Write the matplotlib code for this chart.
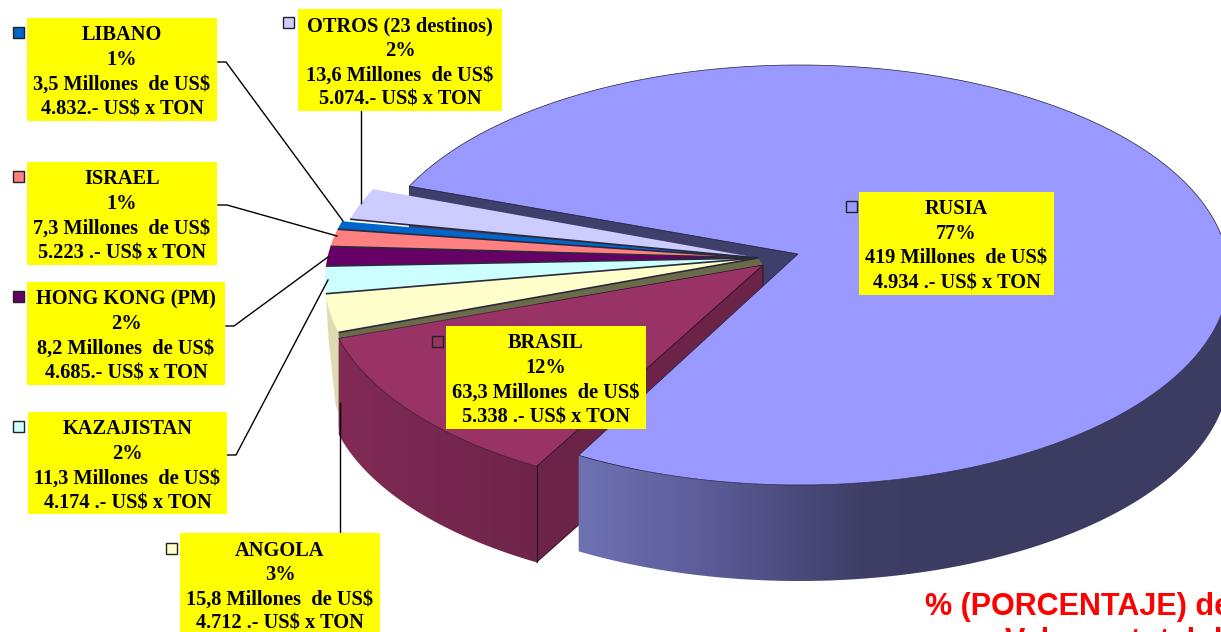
#!/usr/bin/env python3

import numpy as np
import matplotlib
matplotlib.use("Agg")
import matplotlib.pyplot as plt
from matplotlib.patches import Polygon, Rectangle
from matplotlib.colors import LinearSegmentedColormap

paises = ["RUSIA", "BRASIL", "ANGOLA", "KAZAJISTAN", "HONG KONG (PM)", "ISRAEL", "LIBANO", "OTROS (23 destinos)"]
millones = [419, 63.3, 15.8, 11.3, 8.2, 7.3, 3.5, 13.6]
porcentajes = ["77%", "12%", "3%", "2%", "2%", "1%", "1%", "2%"]
millones_txt = ["419 Millones  de US$", "63,3 Millones  de US$", "15,8 Millones  de US$", "11,3 Millones  de US$",
                "8,2 Millones  de US$", "7,3 Millones  de US$", "3,5 Millones  de US$", "13,6 Millones  de US$"]
precios_txt = ["4.934 .- US$ x TON", "5.338 .- US$ x TON", "4.712 .- US$ x TON", "4.174 .- US$ x TON",
               "4.685.- US$ x TON", "5.223 .- US$ x TON", "4.832.- US$ x TON", "5.074.- US$ x TON"]
colores = ["#9999ff", "#993366", "#ffffcc", "#ccffff", "#660066", "#ff8080", "#0066cc", "#ccccff"]

# left, top, right, bottom of each yellow box, in pixels
cajas = [(859, 192, 1054, 295), (446, 326, 646, 429), (180, 533, 380, 636), (28, 412, 227, 514),
         (27, 282, 225, 385), (27, 162, 217, 265), (27, 18, 217, 121), (298, 9, 502, 111)]
cuadros = [(846, 201), (432, 336), (166, 543), (13, 421), (13, 291), (13, 171), (13, 27), (283, 17)]
guias = [None, None,
         [(340, 533), (340, 403)],
         [(227, 455), (236, 455), (328, 280)],
         [(226, 326), (234, 326), (328, 257)],
         [(218, 205), (227, 205), (337, 236)],
         [(218, 62), (226, 62), (343, 221)],
         [(361, 111), (361, 203)]]

A, B, K = 427, 210, 0.1
ALTO = 96
INICIO = 160.3

W, H = 1221, 632
fig = plt.figure(figsize=(W / 100, H / 100), dpi=100)
ax = fig.add_axes([0, 0, 1, 1])
ax.set_xlim(0, W)
ax.set_ylim(H, 0)
ax.axis("off")


def borde(angulos, centro, dy=0, a=A):
    # points of the tilted circle, the hub sits above the ellipse centre
    t = np.radians(angulos)
    den = 1 + K * np.sin(t)
    u = np.cos(t) * np.sqrt(1 - K ** 2) / den
    v = (np.sin(t) + K) / den
    return np.column_stack([centro[0] + a * u, centro[1] - B * v + dy])


def poly(pts, color, z, ec="none", lw=0.0):
    ax.add_patch(Polygon(pts, closed=True, fc=color, ec=ec, lw=lw, zorder=z))


fracc = np.array(millones) / sum(millones) * 360
fin = INICIO - np.cumsum(fracc)
ini = fin + fracc

centro_ru, hub_ru, a_ru = (799, 275), (798, 254), 430
centro_br, hub_br, a_br = (759, 286), (763, 265), 434
centro_ot, hub_ot = (752, 280), (758, 258)
centro_otros = (760, 278)

# Brasil cut face, Russia covers part of it afterwards
p = borde([ini[1]], centro_br, a=a_br)[0]
poly([hub_br, p, p + (0, ALTO), (hub_br[0], hub_br[1] + ALTO)], "#6b2448", 2, "#2a1020", 0.6)

# Russia cut face and outer wall with gradient
p = borde([ini[0]], centro_ru, a=a_ru)[0]
poly([p, p + (0, ALTO - 2), (hub_ru[0], hub_ru[1] + ALTO), hub_ru], "#3f3f6b", 1, "#25253f", 0.6)
ang = np.linspace(fin[0] % 360, 360, 200)
arc = borde(ang, centro_ru, a=a_ru)
pared = np.vstack([arc, borde(ang[::-1], centro_ru, ALTO, a=a_ru)])
cm_ru = LinearSegmentedColormap.from_list("ru", ["#7073b4", "#5a5a96", "#3e3e66", "#3c3c62"])
im = ax.imshow(np.linspace(0, 1, 256)[None, :], cmap=cm_ru, extent=[570, 1010, 640, 400], aspect="auto", zorder=3)
parche = Polygon(pared, closed=True, transform=ax.transData, fc="none", ec="none")
ax.add_patch(parche)
im.set_clip_path(parche)
ax.imshow(np.ones((2, 2)), cmap=LinearSegmentedColormap.from_list("n", ["#3c3c62", "#3c3c62"]),
          extent=[1010, 1300, 640, 300], aspect="auto", zorder=3).set_clip_path(parche)
ax.set_xlim(0, W)
ax.set_ylim(H, 0)

# Russia top
ang = np.linspace(ini[0], fin[0], 400)
poly(np.vstack([[hub_ru], borde(ang, centro_ru, a=a_ru)]), colores[0], 4, "#20203a", 0.5)

# Brasil wall and top
ang = np.linspace(ini[1], fin[1], 120)
arc = borde(ang, centro_br, a=a_br)
pared = np.vstack([arc, borde(ang[::-1], centro_br, ALTO, a=a_br)])
cm_br = LinearSegmentedColormap.from_list("br", ["#812a55", "#6d2448"])
im = ax.imshow(np.linspace(0, 1, 256)[None, :], cmap=cm_br, extent=[335, 560, 570, 330], aspect="auto", zorder=5)
parche = Polygon(pared, closed=True, transform=ax.transData, fc="none", ec="none")
ax.add_patch(parche)
im.set_clip_path(parche)
ax.set_xlim(0, W)
ax.set_ylim(H, 0)
poly(np.vstack([[hub_br], arc]), colores[1], 7, "#2a1020", 0.5)
ax.plot([arc[0][0], arc[0][0]], [arc[0][1], arc[0][1] + ALTO], color="#2a1020", lw=0.8, zorder=6)

# thin wall of Angola that shows left of Brasil
ang = np.linspace(ini[2], fin[2], 30)
arc = borde(ang, centro_ot)
esq = arc[0]
poly(np.vstack([arc, esq + (-10, 6), esq + (-3, 72), esq + (5, 96)]), "#dcdcb0", 4.5)
poly([esq, borde([fin[1]], centro_br, a=a_br)[0], borde([fin[1]], centro_br, ALTO - 6, a=a_br)[0],
      esq + (3, 94)], "#6b6b4b", 4.6)

# small slices, drawn from back to front
for i in [7, 6, 5, 4, 3, 2]:
    c = centro_otros if i == 7 else centro_ot
    ang = np.linspace(ini[i], fin[i], 30)
    poly(np.vstack([[hub_ot], borde(ang, c)]), colores[i], 8)
    p = borde([ini[i]], c)[0]
    ax.plot([hub_ot[0], p[0]], [hub_ot[1], p[1]], color="#2a2a3a", lw=1.2, zorder=9, solid_capstyle="butt")

# olive cut face between Angola and Brasil
poly([hub_ot, esq, borde([ini[2]], centro_br, a=a_br)[0], hub_br], "#6b6b4b", 6.5)

# leader lines
for g in guias:
    if g:
        x, y = zip(*g)
        ax.plot(x, y, color="black", lw=1.0, zorder=10)

# boxes and texts
for i, c in enumerate(cajas):
    ax.add_patch(Rectangle((c[0], c[1]), c[2] - c[0], c[3] - c[1], fc="#ffff00", ec="none", zorder=11))
    lineas = [paises[i], porcentajes[i], millones_txt[i], precios_txt[i]]
    for j, t in enumerate(lineas):
        ax.text((c[0] + c[2]) / 2, c[1] + 17.5 + j * 24.5, t, family="Liberation Serif", weight="bold",
                fontsize=14.7, ha="center", va="center", color="black", zorder=12)
    x, y = cuadros[i]
    ax.add_patch(Rectangle((x, y), 11, 11, fc=colores[i], ec="#222222", lw=1.0, zorder=12))

# red note, cut by the edge of the picture
ax.text(925, 615, "% (PORCENTAJE) de", family="Liberation Sans", weight="bold", fontsize=22, color="#ff0000",
        ha="left", va="baseline", zorder=12)
ax.text(1005, 650, "Valor      total d", family="Liberation Sans", weight="bold", fontsize=22, color="#ff0000",
        ha="left", va="baseline", zorder=12)

fig.savefig("out.png", dpi=100)
